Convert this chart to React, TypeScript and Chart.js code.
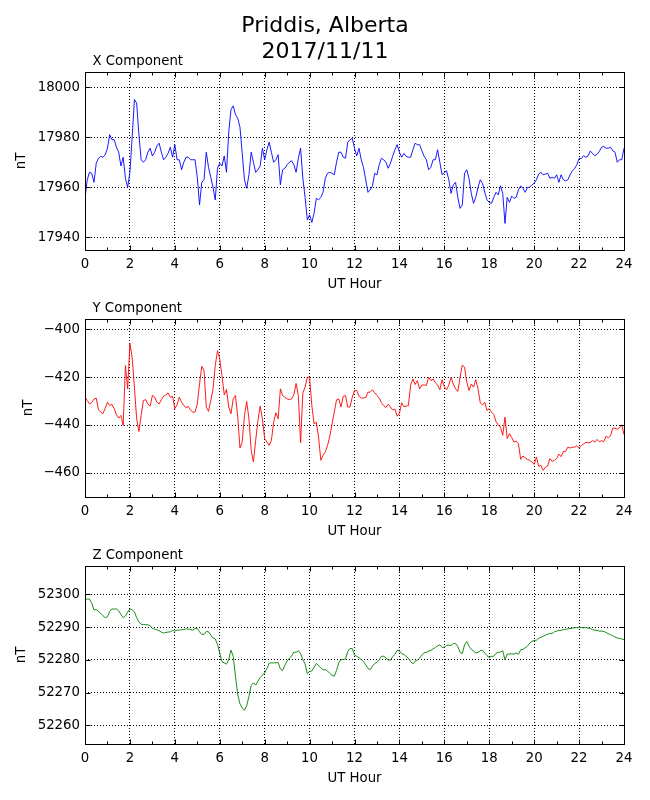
import { useEffect, useRef } from 'react'
import Chart from 'chart.js/auto'

// sampled every 0.1 UT hour, 0..24
const xComponent = [
  17955.6, 17963, 17966, 17965.6, 17962, 17969.6, 17971.6, 17972.3, 17972, 17973,
  17975.6, 17981, 17979, 17979, 17976, 17974, 17968.5, 17972, 17963.6, 17960,
  17966, 17980, 17995, 17993.6, 17981, 17971, 17970, 17971, 17974, 17975.6,
  17972.5, 17974, 17976.5, 17977.6, 17974, 17971, 17972, 17973.6, 17976, 17972,
  17977, 17971, 17971, 17967, 17970, 17972, 17972, 17971, 17971, 17971,
  17964, 17953, 17962, 17963, 17974, 17968, 17964, 17960, 17955, 17967.6,
  17969.6, 17968.5, 17972.5, 17966, 17982, 17991, 17992.5, 17989, 17987.6, 17984,
  17973.6, 17963, 17959.6, 17965, 17974, 17970, 17966, 17967, 17968.5, 17975.6,
  17971, 17975, 17978, 17974, 17970, 17971, 17973, 17961, 17967, 17967.6,
  17969, 17970, 17970.6, 17969, 17966, 17971.6, 17975.6, 17963.6, 17956, 17947,
  17949, 17946, 17949.6, 17955.6, 17955, 17956, 17958, 17963.6, 17965.6, 17966,
  17965.6, 17965, 17970, 17974, 17974, 17972, 17971.6, 17978, 17979, 17979.6,
  17975.6, 17972.5, 17975.6, 17971, 17968, 17963, 17958, 17959, 17960.6, 17965.6,
  17965, 17969, 17971.6, 17971, 17970, 17967.6, 17969.6, 17972.4, 17975, 17977,
  17974, 17972, 17973.5, 17972.4, 17972, 17972, 17975, 17977.6, 17977, 17977,
  17974.6, 17972.4, 17971, 17967, 17968, 17971, 17971, 17975, 17970, 17965,
  17966, 17966.6, 17963, 17957.6, 17961, 17962, 17956, 17951.6, 17953, 17965.6,
  17967, 17963.6, 17957.6, 17953.6, 17956, 17960, 17963, 17961.6, 17958, 17955,
  17954, 17953.6, 17956, 17958, 17957, 17960.6, 17957.6, 17945.6, 17956, 17954,
  17956.5, 17955.6, 17956, 17959, 17960.6, 17959.6, 17958, 17960, 17960, 17961,
  17961.6, 17963, 17965.3, 17966, 17965, 17965.3, 17965.6, 17963.6, 17964, 17963.6,
  17965, 17962, 17965, 17963, 17962.6, 17963, 17965, 17966.6, 17967.5, 17969,
  17971.5, 17971.5, 17972.6, 17972, 17972.5, 17974.5, 17973.5, 17972.6, 17973.2, 17974.3,
  17976, 17976.3, 17975.6, 17975.6, 17976, 17974.6, 17974, 17970, 17971, 17971,
  17975.6,
]

const yComponent = [
  -428.4, -429.8, -431.2, -430.7, -429.2, -428.8, -433.7, -434.6, -435.3, -433,
  -430.5, -431.9, -431.4, -433.2, -435.7, -437.1, -436, -440.2, -415.2, -424.9,
  -406, -411.8, -424.2, -437.4, -442.7, -436, -429.8, -429.4, -431.2, -432.1,
  -427.7, -428.3, -430.5, -431.2, -429.4, -428, -427.4, -426.6, -428.4, -428,
  -433.2, -431.6, -428.4, -430.5, -431.9, -432.7, -432.3, -433.8, -434.6, -434.6,
  -431.2, -422.9, -415.5, -417.3, -432.5, -434.3, -429.8, -425.2, -415.2, -409,
  -412.5, -419.4, -427.4, -425.2, -432.5, -435.3, -429.1, -427.7, -436.3, -449.6,
  -447.1, -436, -430.2, -437.4, -450.6, -455.4, -446.4, -438.1, -432.1, -437.4,
  -445.7, -447.1, -448.5, -446.4, -438.8, -434.9, -437.4, -424.9, -427.7, -428.4,
  -429.1, -429.4, -429.1, -427.4, -422.7, -427.7, -447.4, -426.6, -424.2, -420.1,
  -420.1, -431.9, -439.5, -438.8, -445, -454.7, -452.6, -451.2, -448.5, -444.7,
  -439.5, -434.6, -429.5, -429.1, -432.5, -428, -427.7, -432.5, -432.5, -428.4,
  -425.6, -425.6, -428, -428.8, -428.7, -428.5, -426.3, -426.3, -425.3, -426.6,
  -427.7, -428.8, -430.7, -431.9, -432.7, -431.3, -432.5, -433.7, -433.4, -436.3,
  -435.2, -430.7, -432.4, -432.1, -431.9, -423.3, -420.8, -423.1, -421.5, -424.9,
  -423.3, -423.3, -423.5, -420.1, -421.5, -420.8, -422.4, -423.3, -425.3, -421.1,
  -424, -425.3, -423.3, -420.1, -422.9, -424.9, -426, -420.1, -415, -415.9,
  -422.2, -425.6, -422.9, -424.2, -421.1, -424.9, -430.7, -431.6, -430.5, -433.9,
  -433.2, -434.6, -435.6, -438.5, -439.9, -440.9, -444.3, -436.7, -445.7, -443.6,
  -445.2, -447.1, -446.7, -447.8, -454.3, -452.9, -453.7, -454.3, -454.7, -455.4,
  -456.4, -453.3, -457.2, -456.8, -458.9, -457.6, -457.1, -454, -455.1, -454.8,
  -454, -452.1, -453.2, -451, -451, -449.2, -449.6, -449.2, -449.3, -448.6,
  -449.6, -448.5, -447.9, -447.2, -447.4, -447.2, -446.5, -447.1, -446, -447,
  -446.5, -447, -444.7, -445.3, -444.5, -441.3, -441.3, -441.8, -441.1, -439.9,
  -444,
]

const zComponent = [
  52298.5, 52298.6, 52298.6, 52297.3, 52295.3, 52295.4, 52294.8, 52294.2, 52293.5, 52292.9,
  52293.2, 52294.8, 52295.6, 52295.5, 52295.6, 52295, 52293.9, 52292.9, 52293.4, 52294.6,
  52295.6, 52295.3, 52294.7, 52292.9, 52291.6, 52290.9, 52290.8, 52290.8, 52290.7, 52290.5,
  52289.6, 52289.4, 52289.2, 52288.9, 52288.5, 52288.2, 52288.4, 52288.5, 52288.6, 52289,
  52288.8, 52289.1, 52289.1, 52289.2, 52289.3, 52289.5, 52289.4, 52289.3, 52289.1, 52289.6,
  52289.6, 52288.6, 52287.8, 52287.8, 52288.7, 52288.6, 52287.6, 52286.7, 52286.4, 52284.7,
  52282.1, 52279.4, 52279.1, 52278.7, 52280.1, 52283, 52281.1, 52275, 52269.4, 52266.6,
  52265.3, 52264.6, 52266, 52268.9, 52272.2, 52273, 52272.3, 52273.5, 52274.6, 52275.3,
  52276, 52277.4, 52279, 52279.1, 52279.1, 52279.1, 52279.2, 52277.2, 52276.8, 52278.4,
  52279.6, 52280.5, 52281.2, 52282.4, 52282.3, 52282.8, 52281.9, 52280.1, 52278.8, 52275.8,
  52276.5, 52276.6, 52277.8, 52278.9, 52278.3, 52277.6, 52277, 52277, 52276.6, 52275.9,
  52275.3, 52275, 52276.8, 52279.1, 52280.1, 52280.1, 52280.3, 52282.6, 52283.5, 52283.5,
  52281.5, 52281.1, 52280.7, 52280.1, 52279.5, 52278.5, 52277.4, 52277, 52278.1, 52278.9,
  52279.3, 52280, 52281.1, 52281.1, 52280.6, 52280, 52279.9, 52281, 52281.7, 52282.9,
  52282.8, 52281.9, 52281.7, 52281.1, 52280.5, 52279.5, 52278.8, 52279.6, 52279.9, 52280.6,
  52281.5, 52282.2, 52282.3, 52282.7, 52282.9, 52283.4, 52283.8, 52284.3, 52284.6, 52283.8,
  52283.9, 52284.4, 52284.5, 52284.4, 52285, 52285, 52284.1, 52282.3, 52281.9, 52284.6,
  52285.6, 52284.2, 52283.2, 52282.8, 52282.1, 52282.3, 52282.8, 52282.9, 52282.1, 52281.3,
  52280.7, 52281.1, 52281.1, 52282, 52282.3, 52282.4, 52282.8, 52280, 52281.8, 52281.8,
  52281.9, 52281.7, 52282.1, 52281.7, 52283.1, 52283.2, 52283.7, 52284.2, 52285.1, 52285.7,
  52285.9, 52286, 52286.6, 52286.9, 52287.2, 52287.6, 52287.8, 52288.1, 52288.1, 52288.6,
  52288.8, 52289, 52289, 52289.3, 52289.3, 52289.5, 52289.6, 52289.7, 52289.8, 52289.8,
  52290, 52289.9, 52289.8, 52289.9, 52289.7, 52289.6, 52289.2, 52289.1, 52289, 52288.8,
  52288.8, 52288.7, 52288.4, 52288, 52287.7, 52287.4, 52287, 52286.7, 52286.6, 52286.4,
  52286.2,
]

const hourTicks = [0, 2, 4, 6, 8, 10, 12, 14, 16, 18, 20, 22, 24]
const hourMinorTicks = [1, 3, 5, 7, 9, 11, 13, 15, 17, 19, 21, 23]
const xCompTicks = [17940, 17960, 17980, 18000]
const yCompTicks = [-460, -440, -420, -400]
const zCompTicks = [52260, 52270, 52280, 52290, 52300]

const FONT = 'DejaVu Sans'
const FS = 13.3

Chart.defaults.font.family = FONT
Chart.defaults.font.size = FS
Chart.defaults.color = '#000'

type PanelDef = {
  label: string
  color: string
  values: number[]
  yMin: number
  yMax: number
  yTicks: number[]
  top: number
  height: number
  padTop: number
  padBottom: number
  nTPad: number
  mainTitle: boolean
}

// canvases: 0-294, 295-541, 541-800; plot boxes at 72-250, 319-497, 566-744
const panels: PanelDef[] = [
  { label: 'X Component', color: '#0000ff', values: xComponent, yMin: 17935, yMax: 18006, yTicks: xCompTicks, top: 0, height: 294, padTop: 0, padBottom: 0, nTPad: 14, mainTitle: true },
  { label: 'Y Component', color: '#ff0000', values: yComponent, yMin: -470, yMax: -395.8, yTicks: yCompTicks, top: 295, height: 246, padTop: 24, padBottom: 0, nTPad: 21, mainTitle: false },
  { label: 'Z Component', color: '#008000', values: zComponent, yMin: 52254.3, yMax: 52308.7, yTicks: zCompTicks, top: 541, height: 259, padTop: 25, padBottom: 12, nTPad: 14, mainTitle: false },
]

const fmt = (v: number | string) => {
  const n = Number(v)
  return n < 0 ? '\u2212' + Math.abs(n) : String(n)
}

const al = (p: number) => Math.round(p) + 0.5

// matplotlib-ish frame: box, inward ticks on all sides, panel label
const framePlugin = {
  id: 'frame',
  afterDraw(chart: any, _args: any, opts: any) {
    const { ctx, chartArea: a } = chart
    const xs = chart.scales.x
    const ys = chart.scales.y
    const L = al(a.left), R = al(a.right), T = al(a.top), B = al(a.bottom)
    ctx.save()
    ctx.strokeStyle = '#000'
    ctx.lineWidth = 1
    ctx.beginPath()
    const vtick = (v: number, len: number) => {
      const px = al(xs.getPixelForValue(v))
      ctx.moveTo(px, B); ctx.lineTo(px, B - len)
      ctx.moveTo(px, T); ctx.lineTo(px, T + len)
    }
    hourTicks.forEach((v) => vtick(v, 5))
    hourMinorTicks.forEach((v) => vtick(v, 3))
    ;(opts.yTicks as number[]).forEach((v) => {
      const py = al(ys.getPixelForValue(v))
      ctx.moveTo(L, py); ctx.lineTo(L + 5, py)
      ctx.moveTo(R, py); ctx.lineTo(R - 5, py)
    })
    ctx.stroke()
    ctx.strokeRect(L, T, R - L, B - T)
    ctx.fillStyle = '#000'
    ctx.font = `${FS}px "${FONT}"`
    ctx.textBaseline = 'alphabetic'
    ctx.fillText(opts.label, a.left + 7.5, a.top - 7)
    ctx.restore()
  },
}

function Panel({ p }: { p: PanelDef }) {
  const canvasRef = useRef<HTMLCanvasElement>(null)

  useEffect(() => {
    if (!canvasRef.current) return
    const chart = new Chart(canvasRef.current, {
      type: 'line',
      data: {
        datasets: [{
          data: p.values.map((v, i) => ({ x: i / 10, y: v })),
          borderColor: p.color,
          borderWidth: 0.9,
          pointRadius: 0,
          tension: 0,
          fill: false,
        }],
      },
      options: {
        responsive: false,
        maintainAspectRatio: false,
        animation: false,
        events: [],
        layout: { padding: { top: p.padTop, bottom: p.padBottom, left: 0, right: 0 } },
        scales: {
          x: {
            type: 'linear',
            min: 0,
            max: 24,
            afterBuildTicks: (s: any) => { s.ticks = hourTicks.map((value) => ({ value })) },
            afterFit: (s: any) => { s.height = 44 },
            ticks: { padding: 7, maxRotation: 0, autoSkip: false, callback: fmt, font: { size: FS } },
            grid: { color: '#000', lineWidth: 1, drawTicks: false },
            border: { display: false, dash: [1, 2] },
            title: { display: true, text: 'UT Hour', font: { size: FS }, padding: { top: 0, bottom: 1 } },
          },
          y: {
            type: 'linear',
            min: p.yMin,
            max: p.yMax,
            afterBuildTicks: (s: any) => { s.ticks = p.yTicks.map((value) => ({ value })) },
            afterFit: (s: any) => { s.width = 85 },
            ticks: { padding: 5, callback: fmt, font: { size: FS } },
            grid: { color: '#000', lineWidth: 1, drawTicks: false },
            border: { display: false, dash: [1, 2] },
            title: { display: true, text: 'nT', font: { size: FS }, padding: { top: p.nTPad, bottom: 0 } },
          },
          // empty right-hand box so the figure title stays centred on the page
          yRight: {
            type: 'linear',
            position: 'right',
            display: true,
            afterFit: (s: any) => { s.width = 26 },
            ticks: { display: false },
            grid: { display: false },
            border: { display: false },
          },
        },
        plugins: {
          legend: { display: false },
          tooltip: { enabled: false },
          title: {
            display: p.mainTitle,
            text: ['Priddis, Alberta', '2017/11/11'],
            color: '#000',
            font: { size: 22, weight: 'normal', lineHeight: 26 / 22 },
            padding: { top: 13, bottom: 7 },
          },
          frame: { label: p.label, yTicks: p.yTicks },
        } as any,
      },
      plugins: [framePlugin],
    })
    return () => chart.destroy()
  }, [p])

  return (
    <div style={{ position: 'absolute', left: 0, top: p.top, width: 650, height: p.height }}>
      <canvas ref={canvasRef} width={650} height={p.height} style={{ width: 650, height: p.height }} />
    </div>
  )
}

export default function App() {
  return (
    <div style={{ position: 'absolute', left: 0, top: 0, width: 650, height: 800, background: '#fff' }}>
      {panels.map((p) => <Panel key={p.label} p={p} />)}
    </div>
  )
}
